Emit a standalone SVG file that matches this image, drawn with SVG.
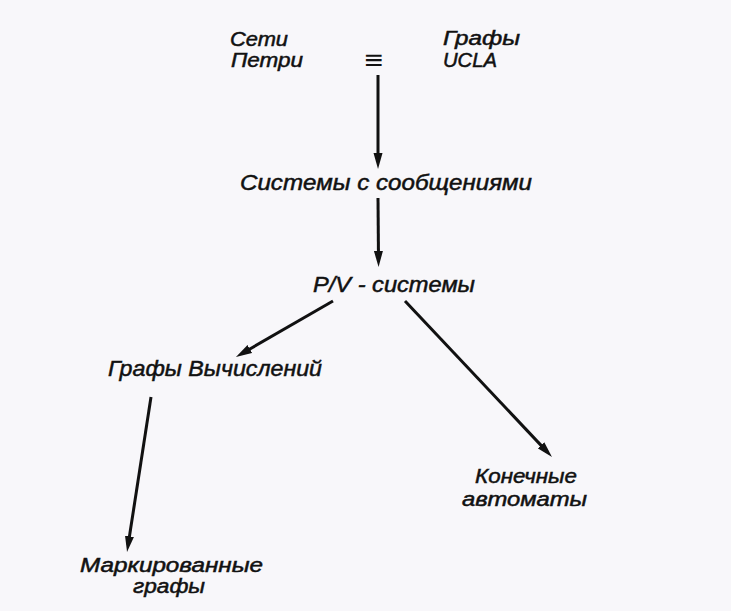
<svg xmlns="http://www.w3.org/2000/svg" width="731" height="611" viewBox="0 0 731 611">
<style>
.t{font-family:"Liberation Sans",Arial,sans-serif;font-style:italic;font-size:22px;fill:#111;stroke:#111;stroke-width:0.5;}
.s{font-size:20px;}
.c{stroke:#111;stroke-width:3;fill:none;marker-end:url(#ah);}
</style>
<defs>
<marker id="ah" markerUnits="userSpaceOnUse" markerWidth="16" markerHeight="10" refX="9" refY="5" orient="auto">
<path d="M0,0.5 L16,5 L0,9.5 Z" fill="#111"/>
</marker>
</defs>
<rect width="731" height="611" fill="#f8f7fa"/>
<g id="connectors">
<line class="c" x1="378" y1="75" x2="378" y2="162"/>
<line class="c" x1="378" y1="198" x2="378.5" y2="260"/>
<line class="c" x1="333" y1="301" x2="242" y2="353.5"/>
<line class="c" x1="405" y1="301" x2="547.2" y2="451.9"/>
<line class="c" x1="151" y1="397" x2="128.1" y2="545.1"/>
</g>
<g id="petri">
<text class="t s" x="230" y="46" textLength="58" lengthAdjust="spacingAndGlyphs">Сети</text>
<text class="t s" x="231" y="67" textLength="72" lengthAdjust="spacingAndGlyphs">Петри</text>
</g>
<g id="equiv">
<text x="374" y="68" text-anchor="middle" style="font-family:'DejaVu Sans',sans-serif;font-size:25px;fill:#111">≡</text>
</g>
<g id="ucla">
<text class="t s" x="443" y="45" textLength="77" lengthAdjust="spacingAndGlyphs">Графы</text>
<text class="t s" x="443" y="67" textLength="54" lengthAdjust="spacingAndGlyphs">UCLA</text>
</g>
<g id="messages">
<text class="t" x="240" y="190" textLength="292" lengthAdjust="spacingAndGlyphs">Системы с сообщениями</text>
</g>
<g id="pv">
<text class="t" x="313" y="292" textLength="162" lengthAdjust="spacingAndGlyphs">P/V - системы</text>
</g>
<g id="computation">
<text class="t" x="108" y="376" textLength="214" lengthAdjust="spacingAndGlyphs">Графы Вычислений</text>
</g>
<g id="automata">
<text class="t s" x="475" y="483" textLength="102" lengthAdjust="spacingAndGlyphs">Конечные</text>
<text class="t s" x="462" y="506" textLength="125" lengthAdjust="spacingAndGlyphs">автоматы</text>
</g>
<g id="marked">
<text class="t s" x="80" y="572" textLength="183" lengthAdjust="spacingAndGlyphs">Маркированные</text>
<text class="t s" x="133" y="593" textLength="72" lengthAdjust="spacingAndGlyphs">графы</text>
</g>
</svg>
